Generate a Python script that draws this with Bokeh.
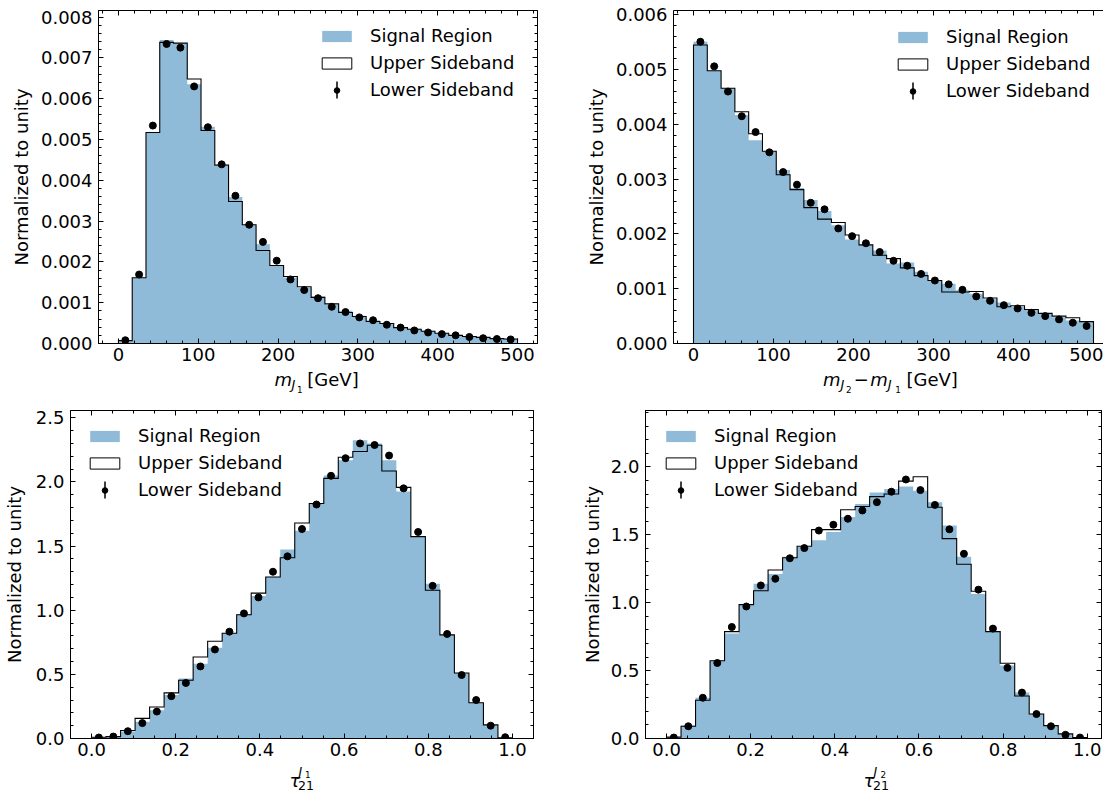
import numpy as np
from bokeh.plotting import figure
from bokeh.models import (LinearAxis, SingleIntervalTicker, NumeralTickFormatter,
                          CustomJSTickFormatter, Legend, LegendItem, Range1d, Arrow)
from bokeh.core.properties import value
from bokeh.layouts import column, row
from bokeh.embed import file_html
from bokeh.resources import INLINE

FONT = "DejaVu Sans"
BLUE = "#8fbbd9"

# ---------------- data ----------------
mass_edges = np.linspace(0, 500, 30)
tau_edges = np.linspace(0, 1, 30)

# m_J1 (x 1e-3)
mj1_signal = [0.07, 1.61, 5.17, 7.44, 7.36, 6.35, 5.31, 4.35, 3.59, 2.91, 2.43, 1.91, 1.62, 1.37, 1.15,
              0.95, 0.80, 0.68, 0.57, 0.49, 0.40, 0.36, 0.31, 0.26, 0.21, 0.18, 0.15, 0.13, 0.11]
mj1_upper = [0.07, 1.61, 5.17, 7.38, 7.36, 6.48, 5.22, 4.37, 3.48, 2.91, 2.28, 1.91, 1.64, 1.39, 1.13,
             0.97, 0.76, 0.66, 0.54, 0.49, 0.39, 0.35, 0.30, 0.25, 0.20, 0.17, 0.15, 0.12, 0.11]
mj1_lower = [0.08, 1.69, 5.34, 7.34, 7.25, 6.30, 5.30, 4.39, 3.62, 2.91, 2.49, 2.03, 1.57, 1.31, 1.11,
             0.90, 0.77, 0.64, 0.57, 0.46, 0.39, 0.32, 0.27, 0.23, 0.20, 0.16, 0.13, 0.11, 0.10]

# m_J2 - m_J1 (x 1e-3)
dm_signal = [5.51, 4.98, 4.66, 4.17, 3.71, 3.51, 3.17, 2.84, 2.62, 2.42, 2.16, 1.90, 1.80, 1.70, 1.46,
             1.48, 1.31, 1.16, 1.09, 0.97, 0.91, 0.81, 0.75, 0.67, 0.63, 0.54, 0.48, 0.42, 0.40]
dm_upper = [5.45, 4.98, 4.66, 4.23, 3.83, 3.51, 3.08, 2.81, 2.48, 2.27, 2.21, 1.98, 1.80, 1.61, 1.55,
            1.38, 1.24, 1.15, 0.94, 0.94, 0.95, 0.83, 0.67, 0.69, 0.62, 0.55, 0.50, 0.47, 0.40]
dm_lower = [5.51, 5.06, 4.60, 4.15, 3.86, 3.49, 3.13, 2.90, 2.57, 2.45, 2.10, 1.96, 1.83, 1.67, 1.51,
            1.42, 1.27, 1.15, 1.08, 0.98, 0.86, 0.78, 0.70, 0.64, 0.56, 0.50, 0.44, 0.38, 0.32]

# tau21 J1
t1_signal = [0.01, 0.015, 0.055, 0.13, 0.22, 0.34, 0.467, 0.583, 0.707, 0.82, 0.97, 1.11, 1.259, 1.473, 1.62,
             1.832, 2.05, 2.17, 2.325, 2.30, 2.17, 1.925, 1.574, 1.207, 0.808, 0.511, 0.279, 0.106, 0.005]
t1_upper = [0.01, 0.015, 0.062, 0.157, 0.245, 0.356, 0.454, 0.635, 0.758, 0.82, 0.965, 1.133, 1.259, 1.409, 1.68,
            1.832, 2.028, 2.193, 2.237, 2.286, 2.085, 1.958, 1.574, 1.156, 0.808, 0.511, 0.279, 0.106, 0.005]
t1_lower = [0.008, 0.015, 0.057, 0.12, 0.21, 0.33, 0.433, 0.562, 0.694, 0.833, 0.975, 1.10, 1.30, 1.42, 1.633,
            1.824, 2.048, 2.185, 2.30, 2.288, 2.206, 1.95, 1.61, 1.19, 0.815, 0.495, 0.30, 0.10, 0.01]

# tau21 J2
t2_signal = [0.01, 0.095, 0.30, 0.573, 0.773, 0.986, 1.139, 1.212, 1.339, 1.411, 1.46, 1.521, 1.63, 1.727, 1.812,
             1.837, 1.856, 1.825, 1.74, 1.569, 1.339, 1.064, 0.787, 0.537, 0.338, 0.18, 0.095, 0.034, 0.007]
t2_upper = [0.01, 0.09, 0.282, 0.573, 0.787, 0.986, 1.088, 1.241, 1.331, 1.416, 1.538, 1.538, 1.684, 1.708, 1.781,
            1.80, 1.895, 1.927, 1.703, 1.472, 1.283, 1.084, 0.787, 0.554, 0.313, 0.18, 0.095, 0.034, 0.007]
t2_lower = [0.007, 0.09, 0.30, 0.556, 0.821, 0.972, 1.127, 1.176, 1.327, 1.402, 1.531, 1.574, 1.618, 1.679, 1.74,
            1.817, 1.907, 1.829, 1.72, 1.54, 1.36, 1.096, 0.809, 0.52, 0.338, 0.18, 0.09, 0.027, 0.007]

legend_labels = ["Signal Region", "Upper Sideband", "Lower Sideband"]
y_label = "Normalized to unity"

# x-axis label pieces: text, font size (px), style, x (px), baseline height (px, from strip bottom)
top_label_text = ["m", "J", "1", "[GeV]", "m", "J", "2", "\u2212", "m", "J", "1", "[GeV]"]
top_label_size = [18, 13, 8.8, 18, 18, 13, 8.8, 18, 18, 13, 8.8, 18]
top_label_style = ["italic", "italic", "normal", "normal", "italic", "italic", "normal", "normal",
                   "italic", "italic", "normal", "normal"]
top_label_x = [274, 291, 296.5, 306.8, 822.4, 840, 845.4, 853.2, 869.8, 887.2, 894.8, 906]
top_label_base = [15.2, 11.2, 8.2, 15.2, 15.2, 11.2, 8.2, 15.2, 15.2, 11.2, 8.2, 15.2]

bot_label_text = ["\u03c4", "J", "1", "21", "\u03c4", "J", "2", "21"]
bot_label_size = [18, 12.6, 8.8, 12.6, 18, 12.6, 8.8, 12.6]
bot_label_style = ["italic", "italic", "normal", "normal", "italic", "italic", "normal", "normal"]
bot_label_x = [289, 298, 304.5, 297.5, 863, 873, 880, 872.5]
bot_label_base = [6.3, 17.8, 16.3, 3.3, 6.3, 17.8, 16.3, 3.3]


def step_path(edges, vals):
    xs, ys = [edges[0]], [0.0]
    for i, v in enumerate(vals):
        xs += [edges[i], edges[i + 1]]
        ys += [v, v]
    xs.append(edges[-1])
    ys.append(0.0)
    return xs, ys


def style_axis(ax, labels=True, standoff=6):
    ax.major_tick_in = 5
    ax.major_tick_out = 0
    ax.minor_tick_in = 3
    ax.minor_tick_out = 0
    ax.axis_line_color = "black"
    ax.major_tick_line_color = "black"
    ax.minor_tick_line_color = "black"
    if labels:
        ax.major_label_text_font = FONT
        ax.major_label_text_font_size = "18px"
        ax.major_label_text_color = "black"
        ax.major_label_standoff = standoff
    else:
        ax.major_label_text_font_size = "1px"
        ax.major_label_standoff = 0


def make_panel(edges, sig, up, low, xr, yr, xint, xminor, yint, yminor, xfmt, yfmt,
               fw, fh, mb, legend_xy, ylab_standoff, cut_right=False):
    p = figure(frame_width=fw, frame_height=fh, x_range=Range1d(*xr), y_range=Range1d(*yr),
               output_backend="svg", toolbar_location=None,
               min_border_left=mb[0], min_border_right=mb[1], min_border_top=mb[2],
               min_border_bottom=mb[3])
    p.grid.visible = False
    p.outline_line_color = None if cut_right else "black"
    p.outline_line_width = 1
    p.background_fill_color = "white"
    p.border_fill_color = "white"

    xt = SingleIntervalTicker(interval=xint, num_minor_ticks=xminor)
    yt = SingleIntervalTicker(interval=yint, num_minor_ticks=yminor)
    p.xaxis[0].ticker = xt
    p.yaxis[0].ticker = yt
    p.xaxis[0].formatter = NumeralTickFormatter(format=xfmt)
    p.yaxis[0].formatter = NumeralTickFormatter(format=yfmt)
    style_axis(p.xaxis[0], standoff=4)
    style_axis(p.yaxis[0], standoff=6)
    p.yaxis[0].axis_label = y_label
    p.yaxis[0].axis_label_text_font = FONT
    p.yaxis[0].axis_label_text_font_size = "18px"
    p.yaxis[0].axis_label_text_font_style = "normal"
    p.yaxis[0].axis_label_text_color = "black"
    p.yaxis[0].axis_label_standoff = ylab_standoff

    empty = CustomJSTickFormatter(code="return ''")
    top = LinearAxis(ticker=xt, formatter=empty)
    style_axis(top, labels=False)
    p.add_layout(top, "above")
    if not cut_right:
        right = LinearAxis(ticker=yt, formatter=empty)
        style_axis(right, labels=False)
        p.add_layout(right, "right")

    edges = np.asarray(edges, dtype=float)
    centers = (edges[:-1] + edges[1:]) / 2
    sig_ext = list(sig) + [sig[-1]]
    r_sig = p.varea_step(x=edges, y1=np.zeros(len(edges)), y2=sig_ext, step_mode="after",
                         fill_color=BLUE, fill_alpha=1.0)
    sx, sy = step_path(edges, up)
    p.line(sx, sy, line_color="black", line_width=1.1, line_join="miter")
    r_up_leg = p.quad(left=[np.nan], right=[np.nan], top=[np.nan], bottom=[np.nan],
                      fill_color="white", line_color="black", line_width=1)
    r_dots = p.scatter(centers, low, size=7, marker="circle", fill_color="black", line_color="black")

    lx, ly = legend_xy
    legend = Legend(items=[LegendItem(label=legend_labels[0], renderers=[r_sig]),
                           LegendItem(label=legend_labels[1], renderers=[r_up_leg]),
                           LegendItem(label=legend_labels[2], renderers=[r_dots])],
                    location=legend_xy, glyph_width=37, glyph_height=14, label_standoff=15,
                    spacing=6, padding=4, margin=0, label_text_font=FONT,
                    label_text_font_size="18px", label_text_color="black",
                    border_line_alpha=0, background_fill_alpha=0)
    p.add_layout(legend)
    # vertical error-bar stroke of the "Lower Sideband" legend glyph
    gx, gy = lx + 22.5, ly + 14.5
    p.add_layout(Arrow(end=None, x_start=gx, y_start=gy - 8.5, x_end=gx, y_end=gy + 8.5,
                       start_units="screen", end_units="screen",
                       line_color="black", line_width=1.5))
    return p


def label_strip(width, height, texts, sizes, styles, xs, bases):
    s = figure(frame_width=width, frame_height=height, x_range=Range1d(0, width),
               y_range=Range1d(0, height), output_backend="svg", toolbar_location=None,
               min_border=0, title=None)
    s.axis.visible = False
    s.grid.visible = False
    s.outline_line_color = None
    for t, fs, st, x, b in zip(texts, sizes, styles, xs, bases):
        # vertical centre of the text box sits 0.346 em above the baseline (DejaVu metrics)
        s.text(x=[x], y=[b + 0.346 * fs], text=[t], text_font=value(FONT),
               text_font_size="%.1fpx" % fs, text_font_style=st, text_color="black",
               text_align="left", text_baseline="middle")
    return s


ms = 1e-3
p1 = make_panel(mass_edges, [v * ms for v in mj1_signal], [v * ms for v in mj1_upper],
                [v * ms for v in mj1_lower], (-25, 525), (0, 0.00816), 100, 5, 0.001, 5,
                "0", "0.000", 439, 333, (98, 40, 10, 25), (216, 239), 6)
p2 = make_panel(mass_edges, [v * ms for v in dm_signal], [v * ms for v in dm_upper],
                [v * ms for v in dm_lower], (-25, 512.5), (0, 0.00608), 100, 5, 0.001, 5,
                "0", "0.000", 430, 333, (96, 0, 10, 25), (217, 238), 6, cut_right=True)
p3 = make_panel(tau_edges, t1_signal, t1_upper, t1_lower, (-0.05, 1.05), (0, 2.557), 0.2, 4, 0.5, 5,
                "0.0", "0.0", 463, 328, (70, 30, 10, 25), (12, 234), 8)
p4 = make_panel(tau_edges, t2_signal, t2_upper, t2_lower, (-0.05, 1.0339), (0, 2.415), 0.2, 4, 0.5, 5,
                "0.0", "0.0", 456, 328, (82, 2, 10, 25), (13, 234), 5)

strip_top = label_strip(1103, 32, top_label_text, top_label_size, top_label_style, top_label_x,
                        top_label_base)
strip_bot = label_strip(1103, 30, bot_label_text, bot_label_size, bot_label_style, bot_label_x,
                        bot_label_base)

layout = column(row(p1, p2), strip_top, row(p3, p4), strip_bot)
open("out.html", "w").write(file_html(layout, INLINE))
